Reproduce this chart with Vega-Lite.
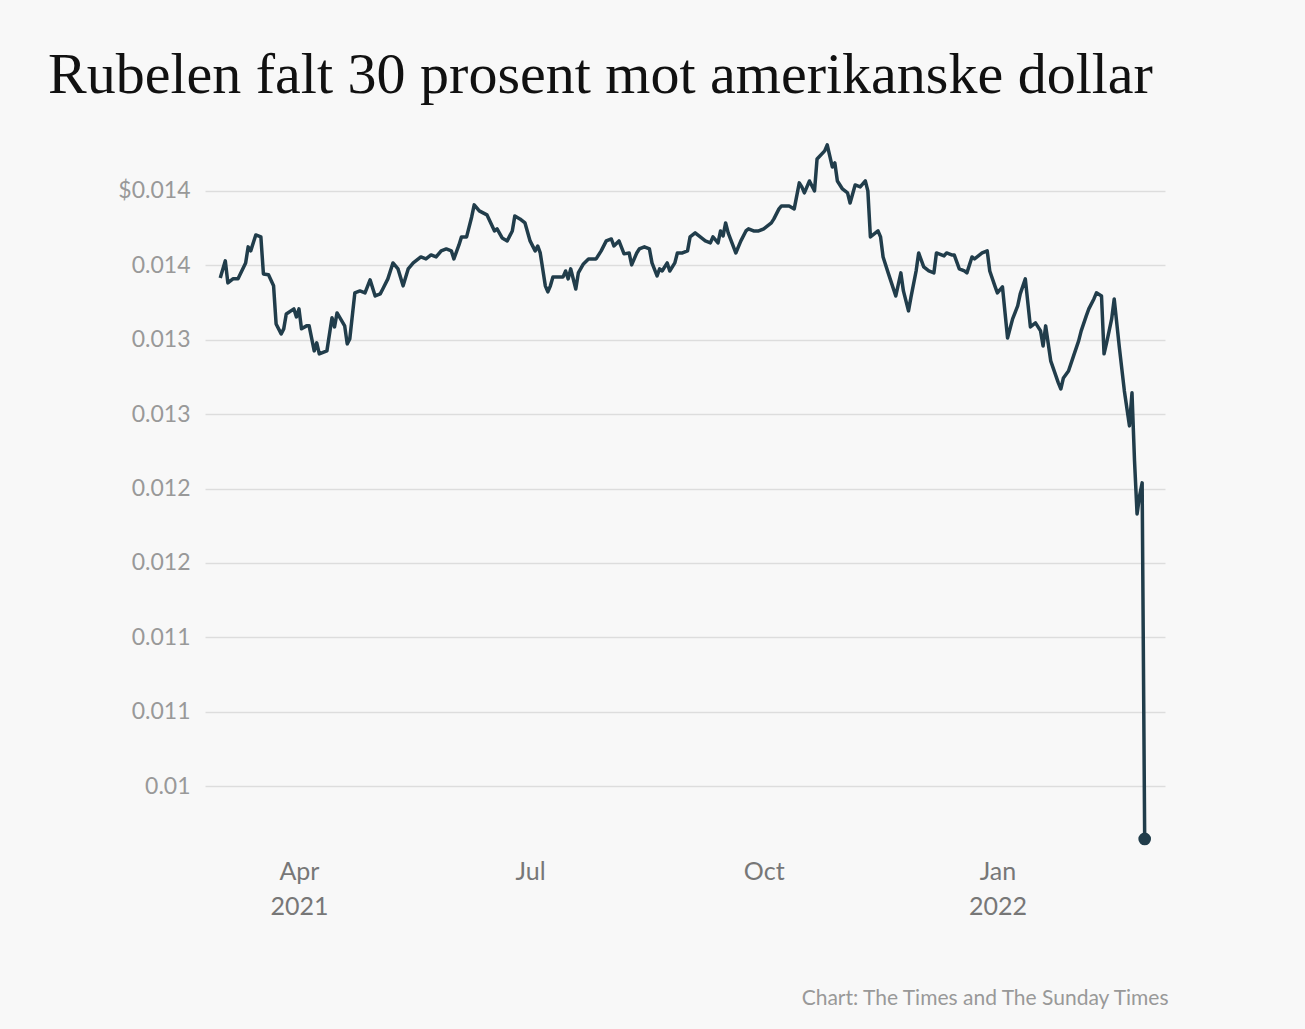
{
"$schema":"https://vega.github.io/schema/vega-lite/v6.json",
"autosize":{"type":"none"},
"width":960,"height":712,
"padding":{"left":205,"top":143,"right":140,"bottom":174},
"background":"#f8f8f8",
"config":{"view":{"stroke":null}},
"title":{"text":"Rubelen falt 30 prosent mot amerikanske dollar","font":"Liberation Serif","fontSize":58,"fontWeight":"normal","color":"#111","anchor":"start","frame":"group","dx":-157,"offset":38},
"data":{"values":[
{"day":-31,"v":0.013415},{"day":-29,"v":0.013530},{"day":-28,"v":0.013382},{"day":-26,"v":0.013409},{"day":-24,"v":0.013409},{"day":-21,"v":0.013516},{"day":-20,"v":0.013624},{"day":-19,"v":0.013597},{"day":-17,"v":0.013704},{"day":-15,"v":0.013691},{"day":-14,"v":0.013442},{"day":-12,"v":0.013436},{"day":-10,"v":0.013362},{"day":-9,"v":0.013106},{"day":-7,"v":0.013039},{"day":-6,"v":0.013073},{"day":-5,"v":0.013173},{"day":-2,"v":0.013207},{"day":-1,"v":0.013153},{"day":0,"v":0.013207},{"day":1,"v":0.013073},{"day":3,"v":0.013093},{"day":4,"v":0.013093},{"day":6,"v":0.012925},{"day":7,"v":0.012979},{"day":8,"v":0.012905},{"day":11,"v":0.012925},{"day":13,"v":0.013147},{"day":14,"v":0.013086},{"day":15,"v":0.013180},{"day":18,"v":0.013093},{"day":19,"v":0.012972},{"day":20,"v":0.013005},{"day":22,"v":0.013315},{"day":24,"v":0.013328},{"day":26,"v":0.013315},{"day":28,"v":0.013402},{"day":30,"v":0.013294},{"day":32,"v":0.013308},{"day":33,"v":0.013341},{"day":35,"v":0.013409},{"day":37,"v":0.013516},{"day":39,"v":0.013476},{"day":41,"v":0.013362},{"day":43,"v":0.013476},{"day":45,"v":0.013516},{"day":48,"v":0.013556},{"day":50,"v":0.013543},{"day":52,"v":0.013570},{"day":54,"v":0.013556},{"day":56,"v":0.013597},{"day":58,"v":0.013610},{"day":60,"v":0.013597},{"day":61,"v":0.013543},{"day":63,"v":0.013637},{"day":64,"v":0.013691},{"day":66,"v":0.013691},{"day":68,"v":0.013825},{"day":69,"v":0.013906},{"day":71,"v":0.013866},{"day":74,"v":0.013839},{"day":77,"v":0.013731},{"day":78,"v":0.013745},{"day":80,"v":0.013684},{"day":82,"v":0.013664},{"day":84,"v":0.013731},{"day":85,"v":0.013832},{"day":87,"v":0.013812},{"day":89,"v":0.013785},{"day":91,"v":0.013664},{"day":93,"v":0.013597},{"day":94,"v":0.013630},{"day":95,"v":0.013583},{"day":97,"v":0.013362},{"day":98,"v":0.013321},{"day":99,"v":0.013362},{"day":100,"v":0.013422},{"day":102,"v":0.013422},{"day":104,"v":0.013422},{"day":105,"v":0.013462},{"day":106,"v":0.013409},{"day":107,"v":0.013476},{"day":109,"v":0.013341},{"day":110,"v":0.013449},{"day":112,"v":0.013509},{"day":114,"v":0.013543},{"day":117,"v":0.013543},{"day":119,"v":0.013597},{"day":121,"v":0.013664},{"day":123,"v":0.013677},{"day":124,"v":0.013630},{"day":126,"v":0.013664},{"day":128,"v":0.013577},{"day":130,"v":0.013583},{"day":131,"v":0.013503},{"day":133,"v":0.013583},{"day":134,"v":0.013610},{"day":136,"v":0.013624},{"day":138,"v":0.013610},{"day":139,"v":0.013516},{"day":141,"v":0.013429},{"day":142,"v":0.013476},{"day":143,"v":0.013462},{"day":145,"v":0.013516},{"day":146,"v":0.013462},{"day":148,"v":0.013516},{"day":149,"v":0.013583},{"day":151,"v":0.013583},{"day":153,"v":0.013597},{"day":154,"v":0.013691},{"day":156,"v":0.013718},{"day":158,"v":0.013691},{"day":160,"v":0.013664},{"day":162,"v":0.013651},{"day":163,"v":0.013691},{"day":165,"v":0.013651},{"day":166,"v":0.013731},{"day":167,"v":0.013698},{"day":168,"v":0.013785},{"day":169,"v":0.013718},{"day":172,"v":0.013583},{"day":174,"v":0.013664},{"day":176,"v":0.013731},{"day":177,"v":0.013745},{"day":179,"v":0.013731},{"day":181,"v":0.013731},{"day":183,"v":0.013745},{"day":184,"v":0.013758},{"day":186,"v":0.013785},{"day":187,"v":0.013812},{"day":189,"v":0.013879},{"day":190,"v":0.013899},{"day":193,"v":0.013899},{"day":195,"v":0.013879},{"day":197,"v":0.014054},{"day":198,"v":0.014027},{"day":199,"v":0.013987},{"day":201,"v":0.014067},{"day":203,"v":0.014000},{"day":204,"v":0.014215},{"day":207,"v":0.014269},{"day":208,"v":0.014309},{"day":209,"v":0.014235},{"day":210,"v":0.014161},{"day":211,"v":0.014188},{"day":212,"v":0.014067},{"day":214,"v":0.014013},{"day":216,"v":0.013987},{"day":217,"v":0.013919},{"day":219,"v":0.014040},{"day":221,"v":0.014027},{"day":223,"v":0.014067},{"day":224,"v":0.014000},{"day":225,"v":0.013691},{"day":228,"v":0.013731},{"day":229,"v":0.013691},{"day":230,"v":0.013556},{"day":232,"v":0.013449},{"day":235,"v":0.013294},{"day":237,"v":0.013449},{"day":238,"v":0.013328},{"day":240,"v":0.013194},{"day":241,"v":0.013288},{"day":243,"v":0.013462},{"day":244,"v":0.013583},{"day":246,"v":0.013489},{"day":248,"v":0.013462},{"day":250,"v":0.013449},{"day":251,"v":0.013583},{"day":254,"v":0.013563},{"day":255,"v":0.013583},{"day":257,"v":0.013570},{"day":258,"v":0.013570},{"day":260,"v":0.013476},{"day":262,"v":0.013462},{"day":263,"v":0.013449},{"day":265,"v":0.013556},{"day":266,"v":0.013543},{"day":269,"v":0.013583},{"day":271,"v":0.013597},{"day":272,"v":0.013462},{"day":274,"v":0.013362},{"day":275,"v":0.013315},{"day":277,"v":0.013355},{"day":279,"v":0.013012},{"day":281,"v":0.013140},{"day":283,"v":0.013227},{"day":284,"v":0.013308},{"day":286,"v":0.013409},{"day":288,"v":0.013086},{"day":290,"v":0.013113},{"day":292,"v":0.013059},{"day":293,"v":0.012958},{"day":294,"v":0.013093},{"day":296,"v":0.012858},{"day":299,"v":0.012710},{"day":300,"v":0.012669},{"day":301,"v":0.012743},{"day":303,"v":0.012790},{"day":305,"v":0.012891},{"day":307,"v":0.012992},{"day":308,"v":0.013059},{"day":310,"v":0.013160},{"day":311,"v":0.013207},{"day":313,"v":0.013274},{"day":314,"v":0.013315},{"day":316,"v":0.013294},{"day":317,"v":0.012905},{"day":318,"v":0.012979},{"day":320,"v":0.013140},{"day":321,"v":0.013274},{"day":323,"v":0.012952},{"day":325,"v":0.012656},{"day":327,"v":0.012421},{"day":328,"v":0.012643},{"day":329,"v":0.012186},{"day":330,"v":0.011829},{"day":331,"v":0.011950},{"day":332,"v":0.012038},{"day":333,"v":0.009645}
]},
"encoding":{
"x":{"field":"day","type":"quantitative","scale":{"domain":[-37,341],"nice":false,"zero":false},
"axis":{"values":[0,91,183,275],"grid":false,"domain":false,"ticks":false,"labelFont":"Lato","labelFontSize":25,"labelColor":"#777","labelPadding":4,"labelLineHeight":35,
"labelExpr":"datum.value==0?['Apr','2021']:datum.value==91?'Jul':datum.value==183?'Oct':['Jan','2022']",
"title":"Chart: The Times and The Sunday Times","titleFont":"Lato","titleFontSize":21,"titleFontWeight":"normal","titleColor":"#999","titleAnchor":"end","titleAlign":"right","titleX":963,"titlePadding":68}},
"y":{"field":"v","type":"quantitative","scale":{"domain":[0.009537,0.014322],"nice":false,"zero":false},
"axis":{"values":[0.01,0.0105,0.011,0.0115,0.012,0.0125,0.013,0.0135,0.014],"domain":false,"ticks":false,"gridColor":"#dddddd","gridWidth":1.5,"labelFont":"Lato","labelFontSize":23,"labelColor":"#999","labelPadding":15,"title":null,
"labelExpr":"(datum.value>0.01399?'$':'')+(ceil(datum.value*1000-0.01)/1000)"}}
},
"layer":[
{"mark":{"type":"line","color":"#213d4b","strokeWidth":3.5,"strokeJoin":"round"}},
{"transform":[{"filter":"datum.day==333"}],"mark":{"type":"point","filled":true,"color":"#213d4b","opacity":1,"size":160}}
]
}
